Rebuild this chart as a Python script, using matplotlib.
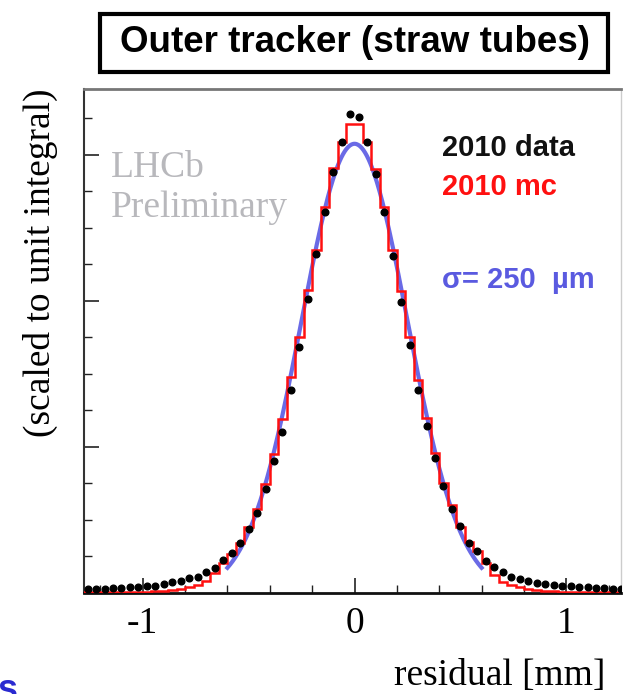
import numpy as np
import matplotlib
matplotlib.use('Agg')
import matplotlib.pyplot as plt
from matplotlib.patches import Rectangle
from matplotlib.ticker import MultipleLocator, NullFormatter

# --- data (bin width 0.04 mm, edges -1.28 .. 1.28) ---
bin_edges = np.round(np.arange(-1.28, 1.2801, 0.04), 2)

data_left = [0.0006, 0.0006, 0.0006, 0.0007, 0.0007, 0.0008, 0.0008, 0.0009,
             0.0010, 0.0012, 0.0015, 0.0017, 0.0020, 0.0022, 0.0029, 0.0034,
             0.0045, 0.0055, 0.0068, 0.0087, 0.0110, 0.0142, 0.0181, 0.0221,
             0.0278, 0.0337, 0.0402, 0.0464, 0.0522, 0.0576, 0.0617, 0.0656]
data_right = [0.0652, 0.0617, 0.0574, 0.0522, 0.0462, 0.0398, 0.0340, 0.0278,
              0.0228, 0.0185, 0.0146, 0.0115, 0.0092, 0.0068, 0.0057, 0.0044,
              0.0036, 0.0029, 0.0022, 0.0019, 0.0016, 0.0014, 0.0012, 0.0011,
              0.0010, 0.0009, 0.0008, 0.0008, 0.0007, 0.0007, 0.0006, 0.0006]

mc_left = [0.0002, 0.0002, 0.0002, 0.0002, 0.0002, 0.0002, 0.0002, 0.0002,
           0.0003, 0.0003, 0.0004, 0.0006, 0.0008, 0.0011, 0.0017, 0.0027,
           0.0041, 0.0054, 0.0068, 0.0091, 0.0115, 0.0149, 0.0190, 0.0238,
           0.0296, 0.0351, 0.0415, 0.0469, 0.0529, 0.0582, 0.0618, 0.0642]
mc_right = [0.0642, 0.0618, 0.0580, 0.0529, 0.0470, 0.0414, 0.0350, 0.0292,
            0.0239, 0.0192, 0.0150, 0.0121, 0.0091, 0.0070, 0.0057, 0.0041,
            0.0025, 0.0015, 0.0011, 0.0008, 0.0006, 0.0004, 0.0003, 0.0003,
            0.0002, 0.0002, 0.0002, 0.0002, 0.0002, 0.0002, 0.0002, 0.0002]

# gaussian fit shown in blue
fit_amp = 0.0615
fit_mean = 0.0
fit_sigma = 0.25
fit_range = (-0.6, 0.6)

data_vals = np.array(data_left + data_right)
mc_vals = np.array(mc_left + mc_right)
centers = 0.5 * (bin_edges[:-1] + bin_edges[1:])

serif = ['Liberation Serif', 'DejaVu Serif']
sans = ['Liberation Sans', 'DejaVu Sans']

W, H = 623, 694
fig = plt.figure(figsize=(W / 100, H / 100), dpi=100)
ax = fig.add_axes([84 / W, (H - 593) / H, (621 - 84) / W, (593 - 89) / H])

xf = np.linspace(fit_range[0], fit_range[1], 300)
yf = fit_amp * np.exp(-0.5 * ((xf - fit_mean) / fit_sigma) ** 2)
ax.plot(xf, yf, color='#6a6ae6', lw=3.0, zorder=2)
ax.stairs(mc_vals, bin_edges, color='#ff1010', lw=1.8, zorder=3)
ax.plot(centers, data_vals, 'o', color='black', ms=4.8, zorder=4)

ax.set_xlim(-1.277, 1.258)
ax.set_ylim(0, 0.069)

ax.xaxis.set_major_locator(MultipleLocator(1))
ax.xaxis.set_minor_locator(MultipleLocator(0.2))
ax.yaxis.set_major_locator(MultipleLocator(0.02))
ax.yaxis.set_minor_locator(MultipleLocator(0.005))
ax.yaxis.set_major_formatter(NullFormatter())
ax.tick_params(which='both', direction='in', top=False, right=False, color='#222222')
ax.tick_params(which='major', length=11, width=1.2)
ax.tick_params(which='minor', length=6, width=1.0)
ax.tick_params(axis='x', pad=10, labelsize=27)
ax.set_xticks([-1, 0, 1])
ax.set_xticklabels(['-1', '0', '1'], family=serif)

ax.spines['bottom'].set_linewidth(2.0)
ax.spines['bottom'].set_color('#111111')
ax.spines['left'].set_linewidth(1.5)
ax.spines['left'].set_color('#333333')
ax.spines['top'].set_linewidth(2.0)
ax.spines['top'].set_color('#777777')
ax.spines['right'].set_linewidth(1.0)
ax.spines['right'].set_color('#cccccc')

# in-plot labels
ax.text(-1.151, 0.0570, 'LHCb', family=serif, fontsize=27, color='#b8b8bc')
ax.text(-1.151, 0.0515, 'Preliminary', family=serif, fontsize=27, color='#b8b8bc')
ax.text(0.412, 0.0598, '2010 data', family=sans, fontsize=21, weight='bold', color='#111111')
ax.text(0.412, 0.0545, '2010 mc', family=sans, fontsize=21, weight='bold', color='#ff1010')
ax.text(0.412, 0.0418, '\u03c3= 250  \u00b5m', family=sans, fontsize=21, weight='bold', color='#5a5ae0')

# axis titles
fig.text(605 / W, (H - 685) / H, 'residual [mm]', family=serif, fontsize=27,
         ha='right', va='baseline')
fig.text(40 / W, (H - 263) / H, '(scaled to unit integral)', family=serif, fontsize=27,
         rotation=90, ha='center', va='center')

# title box
fig.patches.append(Rectangle((100 / W, (H - 72) / H), 508 / W, 58 / H,
                             transform=fig.transFigure, fill=False,
                             edgecolor='black', lw=3))
fig.text(355 / W, (H - 43) / H, 'Outer tracker (straw tubes)', family=sans,
         fontsize=26.5, weight='bold', ha='center', va='center')

# leftover from slide text at the bottom-left corner (cut off as in the source)
fig.text(-2 / W, -6 / H, 's', family=sans, fontsize=26, weight='bold',
         color='#2a2ad0', ha='left', va='baseline')

fig.savefig('out.png', dpi=100)
